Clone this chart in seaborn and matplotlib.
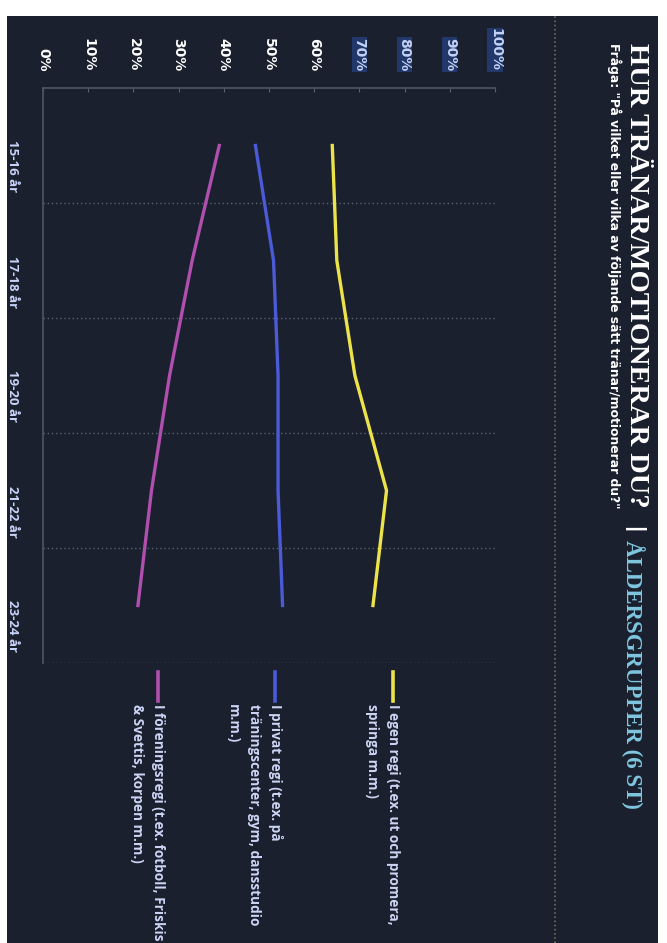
import pandas as pd
import seaborn as sns
import matplotlib.pyplot as plt
from matplotlib.lines import Line2D
from matplotlib.patches import Rectangle

ages = ["15-16 år", "17-18 år", "19-20 år", "21-22 år", "23-24 år"]
egen = [64, 65, 69, 76, 73]
privat = [47, 51, 52, 52, 53]
forening = [39, 33, 28, 24, 21]
series_names = ["I egen regi (t.ex. ut och promera,\nspringa m.m.)",
                "I privat regi (t.ex. på\nträningscenter, gym, dansstudio\nm.m.)",
                "I föreningsregi (t.ex. fotboll, Friskis\n& Svettis, korpen m.m.)"]
colors = ["#ece34a", "#4b5ad6", "#b04fae"]
ticks = list(range(0, 101, 10))
title = "HUR TRÄNAR/MOTIONERAR DU?"
title2 = "ÅLDERSGRUPPER (6 ST)"
subtitle = 'Fråga: "På vilket eller vilka av följande sätt tränar/motionerar du?"'

rows = []
for name, vals in zip(series_names, [egen, privat, forening]):
    for i, v in enumerate(vals):
        rows.append({"serie": name, "pos": i, "value": v})
df = pd.DataFrame(rows)

W, H = 667, 943
bg = "#1a202e"
fig = plt.figure(figsize=(W / 100, H / 100), dpi=100, facecolor="white")

def fx(px):
    return px / W

def fy(py):
    return 1 - py / H

# dark panel
fig.add_artist(Rectangle((fx(7), 0), fx(651), fy(16), transform=fig.transFigure,
                         facecolor=bg, edgecolor="none", zorder=0))
# dotted separator
fig.add_artist(Line2D([fx(555), fx(555)], [0, fy(16)], transform=fig.transFigure,
                      color="#6d6c5e", lw=1.2, ls=(0, (1, 1.5))))

ax = fig.add_axes([fx(43), fy(663), fx(452), (663 - 88) / H])
ax.set_facecolor("none")

sns.lineplot(data=df, x="value", y="pos", hue="serie", palette=colors,
             orient="y", linewidth=2.4, legend=False, ax=ax)

ax.set_xlim(0, 100)
ax.set_ylim(4.5, -0.5)
ax.set_xlabel("")
ax.set_ylabel("")

ax.xaxis.tick_top()
ax.set_xticks(ticks)
ax.set_xticklabels([f"{t}%" for t in ticks], rotation=-90, color="white",
                   fontsize=10, fontweight="bold", family="DejaVu Sans")
for lab in ax.get_xticklabels()[7:]:
    lab.set_bbox(dict(facecolor="#22386a", edgecolor="none", pad=0.5))
    lab.set_color("#c4d2f5")
ax.tick_params(axis="x", length=3, direction="in", color="#59606e", pad=12)

ax.set_yticks(range(len(ages)))
ax.set_yticklabels(ages, rotation=-90, color="#c9d3f7", fontsize=9.5,
                   fontweight="bold", family="Open Sans")
ax.tick_params(axis="y", length=0, pad=17)
ax.set_yticks([0.5, 1.5, 2.5, 3.5, 4.5], minor=True)
ax.tick_params(axis="y", which="minor", length=0)
ax.grid(which="minor", axis="y", color="#5d6372", linestyle=(0, (1, 2)), lw=1)
ax.grid(which="major", visible=False)

for s in ["right", "bottom"]:
    ax.spines[s].set_visible(False)
for s in ["top", "left"]:
    ax.spines[s].set_color("#4e5564")
    ax.spines[s].set_linewidth(1.2)

# titles
fig.text(fx(637), fy(43), title, rotation=-90, ha="center", va="top",
         color="white", fontsize=20.5, fontweight="bold", family="Liberation Serif")
fig.text(fx(633), fy(530), "|", rotation=-90, ha="center", va="center",
         color="white", fontsize=16, fontweight="bold")
fig.text(fx(633), fy(540), title2, rotation=-90, ha="center", va="top",
         color="#7fc6e0", fontsize=16.5, fontweight="bold", family="Liberation Serif")
fig.text(fx(614), fy(43), subtitle, rotation=-90, ha="center", va="top",
         color="white", fontsize=8.9, fontweight="bold", family="DejaVu Sans")

# legend drawn by hand (rotated)
leg_x = [393, 275, 158]
for name, c, x in zip(series_names, colors, leg_x):
    fig.add_artist(Line2D([fx(x), fx(x)], [fy(672), fy(701)], transform=fig.transFigure,
                          color=c, lw=2.6))
    for k, line in enumerate(name.split("\n")):
        fig.text(fx(x - 21 * k), fy(704), line, rotation=-90, ha="center", va="top",
                 color="#cdd5f5", fontsize=9.8, fontweight="bold", family="Open Sans")

fig.savefig("out.png", dpi=100, facecolor="white")
